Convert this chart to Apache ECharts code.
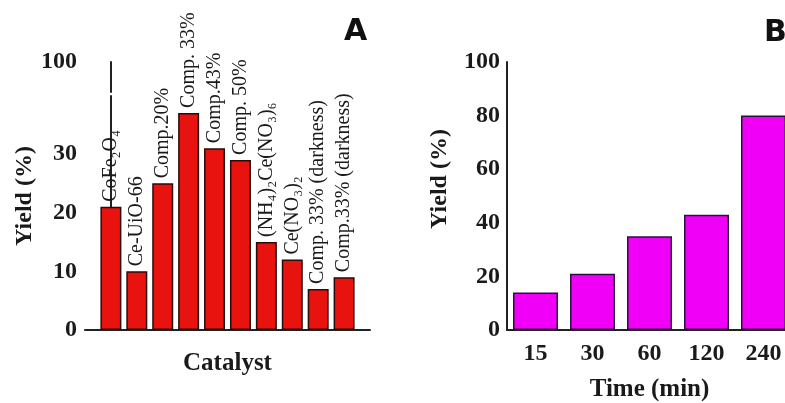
<!DOCTYPE html>
<html>
<head>
<meta charset="utf-8">
<script src="https://cdn.jsdelivr.net/npm/echarts@6/dist/echarts.min.js"></script>
<style>
  html, body { margin: 0; padding: 0; background: #fff; }
  #chart { width: 785px; height: 403px; }
</style>
</head>
<body>
<div id="chart"></div>
<script>
var catalysts = ['CoFe₂O₄', 'Ce-UiO-66', 'Comp.20%', 'Comp. 33%', 'Comp.43%', 'Comp. 50%',
  '(NH₄)₂Ce(NO₃)₆', 'Ce(NO₃)₂', 'Comp. 33% (darkness)', 'Comp.33% (darkness)'];
var yieldA = [21, 10, 25, 37, 31, 29, 15, 12, 7, 9];
var yTicksA = [0, 10, 20, 30, 100];

var times = ['15', '30', '60', '120', '240'];
var yieldB = [14, 21, 35, 43, 80];

var serif = '"Liberation Serif", "Times New Roman", serif';
var ink = '#1a1a1a';

var myChart = echarts.init(document.getElementById('chart'));

var option = {
  backgroundColor: '#fff',
  animation: false,
  graphic: [
    { type: 'text', left: 344, top: 17, style: { text: 'A', font: 'bold 30px "DejaVu Sans"', fill: '#111' } },
    { type: 'text', left: 764, top: 18, style: { text: 'B', font: 'bold 30px "DejaVu Sans"', fill: '#111' } }
  ],
  grid: [
    { left: 85, right: 415, top: 62, bottom: 73, outerBoundsMode: 'none' },
    { left: 507, right: -7, top: 62, bottom: 73, outerBoundsMode: 'none' }
  ],
  xAxis: [
    {
      gridIndex: 0,
      type: 'value',
      min: -1,
      max: 10,
      interval: 1,
      name: 'Catalyst',
      nameLocation: 'middle',
      nameGap: 21,
      nameTextStyle: { fontFamily: serif, fontWeight: 'bold', fontSize: 25, color: ink },
      axisLine: { lineStyle: { color: '#222', width: 2 } },
      axisTick: { show: false },
      axisLabel: { show: false },
      splitLine: { show: false }
    },
    {
      gridIndex: 1,
      type: 'category',
      data: times,
      name: 'Time (min)',
      nameLocation: 'middle',
      nameGap: 47,
      nameTextStyle: { fontFamily: serif, fontWeight: 'bold', fontSize: 25, color: ink },
      axisLine: { lineStyle: { color: '#222', width: 2 } },
      axisTick: { show: false },
      axisLabel: { fontFamily: serif, fontWeight: 'bold', fontSize: 24, color: ink, margin: 12 }
    }
  ],
  yAxis: [
    {
      gridIndex: 0,
      type: 'value',
      min: 0,
      max: 100,
      breaks: [{ start: 40, end: 95, gap: '1.5%' }],
      breakArea: {
        show: true,
        itemStyle: { color: 'rgba(255,255,255,0)', borderColor: 'rgba(0,0,0,0)' }
      },
      name: 'Yield (%)',
      nameLocation: 'middle',
      nameRotate: 90,
      nameGap: 48,
      nameTextStyle: { fontFamily: serif, fontWeight: 'bold', fontSize: 24, color: ink },
      axisLine: { show: true, lineStyle: { color: '#222', width: 2 } },
      axisTick: { show: false },
      splitLine: { show: false },
      axisLabel: {
        fontFamily: serif, fontWeight: 'bold', fontSize: 24, color: ink, margin: 8,
        customValues: yTicksA,
        hideOverlap: false
      }
    },
    {
      gridIndex: 1,
      type: 'value',
      min: 0,
      max: 100,
      interval: 20,
      name: 'Yield (%)',
      nameLocation: 'middle',
      nameRotate: 90,
      nameGap: 55,
      nameTextStyle: { fontFamily: serif, fontWeight: 'bold', fontSize: 24, color: ink, padding: [0, 0, 0, 34] },
      axisLine: { show: true, lineStyle: { color: '#222', width: 2 } },
      axisTick: { show: false },
      splitLine: { show: false },
      axisLabel: { fontFamily: serif, fontWeight: 'bold', fontSize: 24, color: ink, margin: 7 }
    }
  ],
  series: [
    {
      type: 'bar',
      xAxisIndex: 0,
      yAxisIndex: 0,
      barWidth: 21,
      data: yieldA.map(function (v, i) { return [i, v]; }),
      itemStyle: { color: '#e8120f', borderColor: '#2b0a0a', borderWidth: 1.5 },
      label: {
        show: true,
        position: 'top',
        rotate: 90,
        align: 'left',
        verticalAlign: 'middle',
        distance: 5,
        fontFamily: serif,
        fontSize: 20,
        color: ink,
        formatter: function (p) { return catalysts[p.dataIndex]; }
      }
    },
    {
      type: 'bar',
      xAxisIndex: 1,
      yAxisIndex: 1,
      barWidth: 45,
      data: yieldB,
      itemStyle: { color: '#f000f6', borderColor: '#2a1040', borderWidth: 1.5 }
    }
  ]
};

option && myChart.setOption(option);
</script>
</body>
</html>
